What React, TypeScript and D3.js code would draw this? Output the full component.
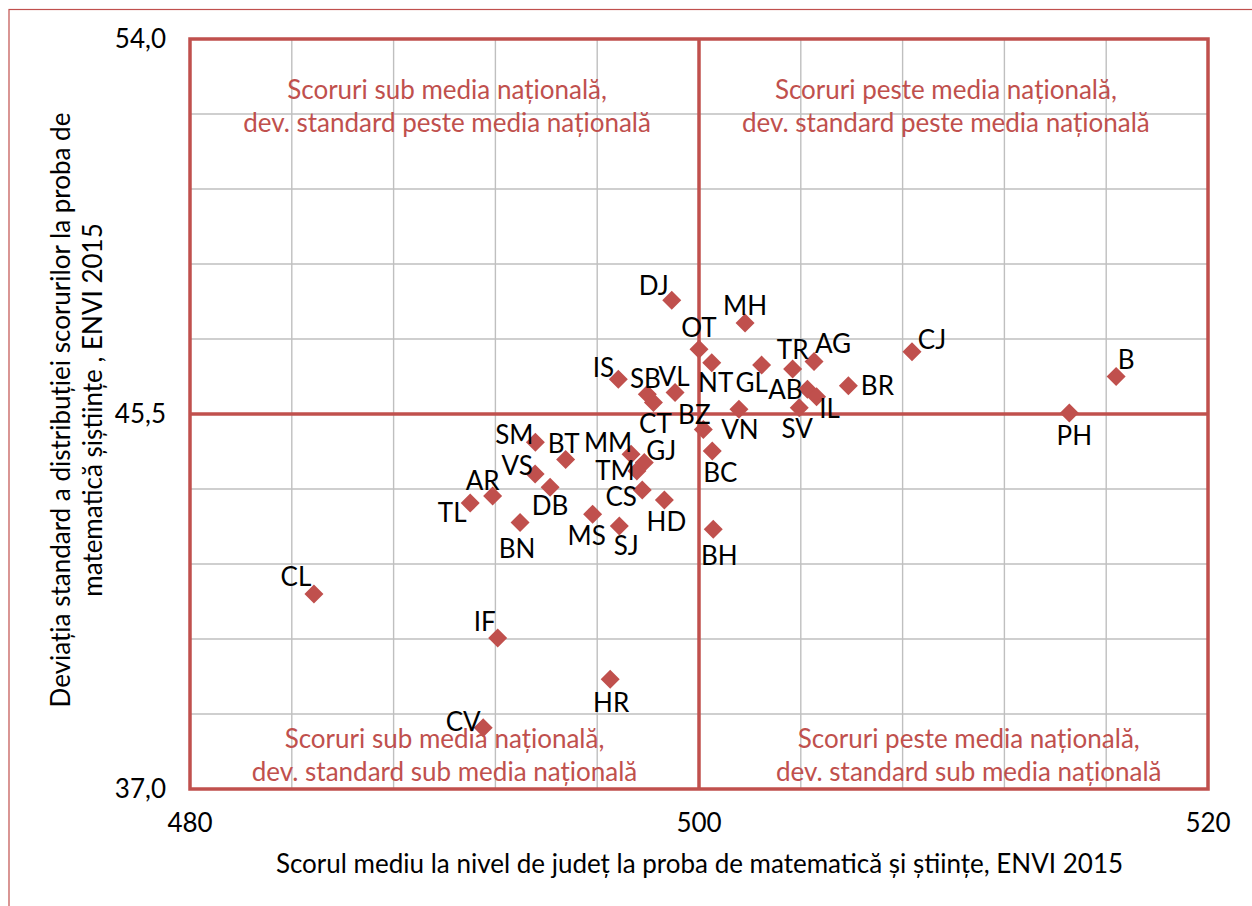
import React from "react";
import * as d3 from "d3";

const categories = ["DJ","MH","OT","NT","GL","TR","AG","CJ","B","BR","AB","IL","SV","PH","VN","BZ","BC","BH","IS","SB","CT","VL","SM","BT","MM","GJ","VS","TM","DB","AR","TL","BN","CS","HD","MS","SJ","CL","IF","HR","CV"];
const meanScore = [498.93,501.81,500.0,500.5,502.46,503.68,504.52,508.37,516.39,505.87,504.26,504.62,503.94,514.55,501.57,500.17,500.52,500.56,496.83,497.97,498.21,499.06,493.57,494.76,497.33,497.85,493.56,497.56,494.15,491.89,491.01,492.97,497.77,498.64,495.82,496.87,484.87,492.09,496.51,491.52];
const stdDev = [48.08,47.56,46.97,46.66,46.61,46.52,46.69,46.91,46.35,46.14,46.06,45.89,45.64,45.52,45.61,45.15,44.66,42.89,46.29,45.95,45.76,45.99,44.86,44.47,44.59,44.40,44.14,44.21,43.84,43.64,43.48,43.04,43.78,43.55,43.23,42.96,41.42,40.42,39.49,38.39];

const xTicks = [480, 500, 520];
const yTicks = [54.0, 45.5, 37.0];
const nationalMean = 500;
const nationalSD = 45.5;

const quadrantTexts = [
  { lines: ["Scoruri sub media națională,", "dev. standard peste media națională"], x: 490.1, y: 52.64 },
  { lines: ["Scoruri peste media națională,", "dev. standard peste media națională"], x: 509.7, y: 52.64 },
  { lines: ["Scoruri sub media națională,", "dev. standard sub media națională"], x: 490.0, y: 37.93 },
  { lines: ["Scoruri peste media națională,", "dev. standard sub media națională"], x: 510.6, y: 37.93 },
];

// label placement offsets (px) relative to the marker
const labelOffsets: Record<string, [number, number]> = {
  DJ: [-18, -14], MH: [0, -17], OT: [0, -21], NT: [4, 20], GL: [-10, 18], TR: [0, -19],
  AG: [19, -18], CJ: [20, -12], B: [10, -17], BR: [29, 0], AB: [-22, 0], IL: [13, 12],
  SV: [-2, 21], PH: [5, 23], VN: [1, 21], BZ: [-9, -15], BC: [8, 22], BH: [6, 27],
  IS: [-15, -11], SB: [-2, -15], VL: [-1, -16], CT: [2, 21], SM: [-21, -8], BT: [-2, -16],
  MM: [-23, -11], GJ: [17, -12], VS: [-18, -8], TM: [-22, 0], AR: [-10, -15], TL: [-18, 10],
  DB: [0, 18], CS: [-21, 7], HD: [2, 22], BN: [-3, 26], MS: [-6, 22], SJ: [7, 20],
  CL: [-18, -17], IF: [-13, -16], HR: [1, 24], CV: [-20, -6],
};

const RED = "#C0504D";
const FONT = "Lato, 'Open Sans', sans-serif";

export default function App() {
  const W = 1252, H = 906;
  const x = d3.scaleLinear().domain([480, 520]).range([190, 1208]);
  const y = d3.scaleLinear().domain([37, 54]).range([789, 39]);
  const xGrid = d3.range(480, 520.001, 4);
  const yGrid = d3.range(0, 11).map((i) => 37 + i * 1.7);
  const fs = 26;
  const base = 9.3;
  const r = 9.5;

  return (
    <svg width={W} height={H} style={{ position: "absolute", left: 0, top: 0, background: "#fff" }} fontFamily={FONT}>
      <rect x={0} y={0} width={W} height={H} fill="#fff" />
      <rect x={9} y={9.5} width={1260} height={920} fill="none" stroke={RED} strokeWidth={1.2} />
      {xGrid.map((v) => (
        <line key={"gx" + v} x1={x(v)} x2={x(v)} y1={y(54)} y2={y(37)} stroke="#BFBFBF" strokeWidth={1.4} />
      ))}
      {yGrid.map((v, i) => (
        <line key={"gy" + i} x1={x(480)} x2={x(520)} y1={y(v)} y2={y(v)} stroke="#BFBFBF" strokeWidth={1.4} />
      ))}
      <line x1={x(nationalMean)} x2={x(nationalMean)} y1={y(54)} y2={y(37)} stroke={RED} strokeWidth={3.5} />
      <line x1={x(480)} x2={x(520)} y1={y(nationalSD)} y2={y(nationalSD)} stroke={RED} strokeWidth={3.5} />
      <rect x={x(480)} y={y(54)} width={x(520) - x(480)} height={y(37) - y(54)} fill="none" stroke={RED} strokeWidth={3.5} />

      {quadrantTexts.map((q, i) => (
        <text key={"q" + i} x={x(q.x)} y={y(q.y)} textAnchor="middle" fill={RED} fontSize={fs}>
          {q.lines.map((l, j) => (
            <tspan key={j} x={x(q.x)} dy={j === 0 ? 0 : 33}>{l}</tspan>
          ))}
        </text>
      ))}

      {categories.map((c, i) => {
        const cx = x(meanScore[i]);
        const cy = y(stdDev[i]);
        return (
          <path key={"m" + c} d={`M${cx},${cy - r}L${cx + r},${cy}L${cx},${cy + r}L${cx - r},${cy}Z`} fill={RED} />
        );
      })}
      {categories.map((c, i) => {
        const cx = x(meanScore[i]);
        const cy = y(stdDev[i]);
        const [dx, dy] = labelOffsets[c] || [0, -18];
        return (
          <text key={"l" + c} x={cx + dx} y={cy + dy + base} textAnchor="middle" fontSize={fs} fill="#000">{c}</text>
        );
      })}

      {yTicks.map((v) => (
        <text key={"yt" + v} x={166} y={y(v) + base} textAnchor="end" fontSize={fs} fill="#000">
          {d3.format(".1f")(v).replace(".", ",")}
        </text>
      ))}
      {xTicks.map((v) => (
        <text key={"xt" + v} x={x(v)} y={832} textAnchor="middle" fontSize={fs} fill="#000">{v}</text>
      ))}
      <text x={699.5} y={873} textAnchor="middle" fontSize={fs} fill="#000">
        Scorul mediu la nivel de județ la proba de matematică și științe, ENVI 2015
      </text>
      <g transform="translate(70,410) rotate(-90)">
        <text x={0} y={0} textAnchor="middle" fontSize={fs} fill="#000">
          Deviația standard a distribuției scorurilor la proba de
        </text>
        <text x={0} y={32} textAnchor="middle" fontSize={fs} fill="#000">
          matematică șiștiințe , ENVI 2015
        </text>
      </g>
    </svg>
  );
}
